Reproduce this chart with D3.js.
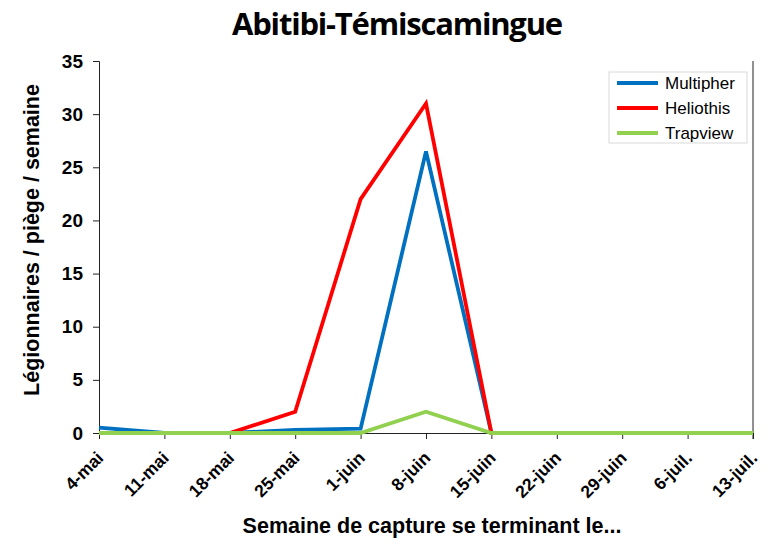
<!DOCTYPE html>
<html>
<head>
<meta charset="utf-8">
<script src="https://cdn.jsdelivr.net/npm/d3@7"></script>
<style>
  body { margin: 0; background: #fff; }
  svg { display: block; }
</style>
</head>
<body>
<svg id="chart" width="775" height="544"></svg>
<script>
const weeks = ["4-mai", "11-mai", "18-mai", "25-mai", "1-juin", "8-juin", "15-juin", "22-juin", "29-juin", "6-juil.", "13-juil."];
const multipher = [0.5, 0, 0, 0.3, 0.4, 26.5, 0, 0, 0, 0, 0];
const heliothis = [0, 0, 0, 2, 22, 31, 0, 0, 0, 0, 0];
const trapview = [0, 0, 0, 0, 0, 2, 0, 0, 0, 0, 0];
const yTicks = [0, 5, 10, 15, 20, 25, 30, 35];

const series = [
  { name: "Multipher", values: multipher, color: "#0070c0" },
  { name: "Heliothis", values: heliothis, color: "#ff0000" },
  { name: "Trapview", values: trapview, color: "#92d050" }
];

const svg = d3.select("#chart");
const margin = { top: 61, right: 22, bottom: 111, left: 99 };
const width = 775, height = 544;

const x = d3.scalePoint()
  .domain(weeks)
  .range([margin.left, width - margin.right]);

const y = d3.scaleLinear()
  .domain([0, 35])
  .range([height - margin.bottom, margin.top]);

const font = "'Liberation Sans', Arial, sans-serif";

// title
svg.append("text")
  .attr("x", 397)
  .attr("y", 35)
  .attr("text-anchor", "middle")
  .style("font-family", "'Open Sans', Lato, sans-serif")
  .style("font-weight", "bold")
  .style("font-size", "31px")
  .style("letter-spacing", "-1.2px")
  .text("Abitibi-Témiscamingue");

// right border
svg.append("line")
  .attr("x1", width - margin.right).attr("x2", width - margin.right)
  .attr("y1", margin.top).attr("y2", height - margin.bottom + 6)
  .attr("stroke", "#222").attr("stroke-width", 1);

// y axis
svg.append("g")
  .attr("transform", `translate(${margin.left},0)`)
  .call(d3.axisLeft(y).tickValues(yTicks).tickSize(6).tickPadding(10))
  .call(g => g.select(".domain").attr("stroke", "#222"))
  .call(g => g.selectAll(".tick line").attr("stroke", "#222"))
  .call(g => g.selectAll("text")
    .style("font-family", font)
    .style("font-weight", "bold")
    .style("font-size", "19px")
    .attr("fill", "#000"));

// x axis
svg.append("g")
  .attr("transform", `translate(0,${height - margin.bottom})`)
  .call(d3.axisBottom(x).tickSize(6).tickSizeOuter(0))
  .call(g => g.select(".domain").attr("stroke", "#222"))
  .call(g => g.selectAll(".tick line").attr("stroke", "#222"))
  .call(g => g.selectAll("text")
    .style("font-family", font)
    .style("font-weight", "bold")
    .style("font-size", "17.5px")
    .attr("fill", "#000")
    .attr("text-anchor", "end")
    .attr("dy", null)
    .attr("y", 0)
    .attr("transform", "translate(5,26) rotate(-45)"));

// axis titles
svg.append("text")
  .attr("x", 432)
  .attr("y", 533)
  .attr("text-anchor", "middle")
  .style("font-family", font)
  .style("font-weight", "bold")
  .style("font-size", "21.5px")
  .text("Semaine de capture se terminant le...");

svg.append("text")
  .attr("transform", "translate(39,240) rotate(-90)")
  .attr("text-anchor", "middle")
  .style("font-family", font)
  .style("font-weight", "bold")
  .style("font-size", "21.5px")
  .text("Légionnaires / piège / semaine");

// lines
const line = d3.line()
  .x((d, i) => x(weeks[i]))
  .y(d => y(d));

svg.append("g")
  .selectAll("path")
  .data(series)
  .join("path")
  .attr("d", d => line(d.values))
  .attr("fill", "none")
  .attr("stroke", d => d.color)
  .attr("stroke-width", 3.8)
  .attr("stroke-linejoin", "miter");

// legend
const legend = svg.append("g").attr("transform", "translate(609,72)");
legend.append("rect")
  .attr("width", 138).attr("height", 71)
  .attr("fill", "#fff")
  .attr("stroke", "#d9d9d9");

const item = legend.selectAll(".item")
  .data(series)
  .join("g")
  .attr("class", "item")
  .attr("transform", (d, i) => `translate(0,${11 + i * 25})`);

item.append("line")
  .attr("x1", 8).attr("x2", 49)
  .attr("stroke", d => d.color)
  .attr("stroke-width", 3.8);

item.append("text")
  .attr("x", 56)
  .attr("y", 6)
  .style("font-family", font)
  .style("font-size", "17px")
  .text(d => d.name);
</script>
</body>
</html>
